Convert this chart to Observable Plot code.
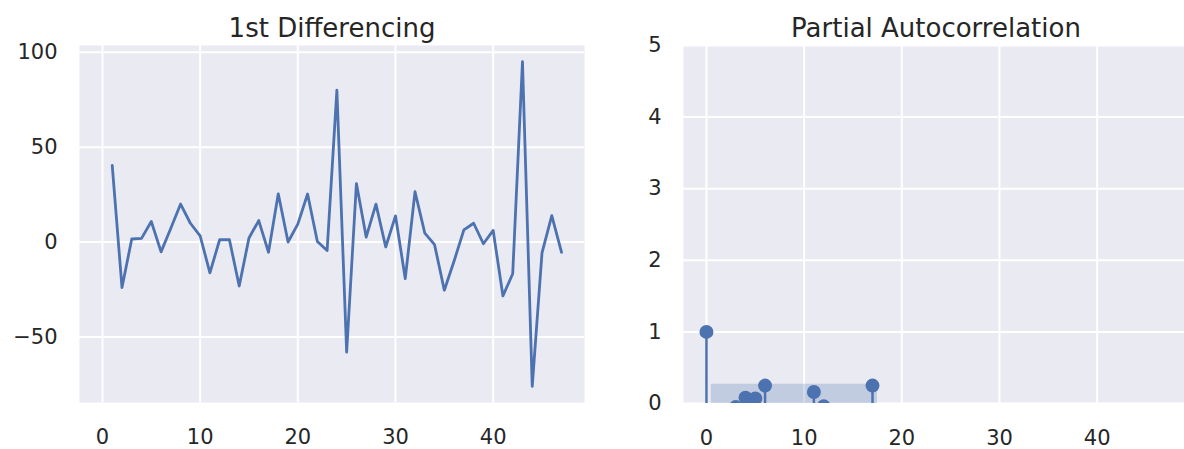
<!DOCTYPE html>
<html>
<head>
<meta charset="utf-8">
<script src="https://cdn.jsdelivr.net/npm/d3@7"></script>
<script src="https://cdn.jsdelivr.net/npm/@observablehq/plot@0.6"></script>
<style>
  html, body { margin: 0; padding: 0; background: #fff; overflow: hidden; }
  #wrap { position: relative; width: 1184px; height: 449px; overflow: hidden; }
  .panel { position: absolute; top: 0; width: 600px; height: 449px; }
  .panel svg { max-width: none !important; display: block; }
</style>
</head>
<body>
<div id="wrap">
  <div class="panel" id="left" style="left:0px"></div>
  <div class="panel" id="right" style="left:600px"></div>
</div>
<script>
// ---- data ----
const diffTitle = "1st Differencing";
const pacfTitle = "Partial Autocorrelation";

// first-differenced series, t = 1..47
const diffValues = [40.4, -24.0, 1.6, 1.9, 10.8, -5.2, 7.3, 20.0, 9.9, 3.3,
  -16.2, 1.2, 1.2, -23.2, 2.1, 11.3, -5.4, 25.4, 0.0, 9.4,
  25.3, 0.3, -4.5, 80.0, -58.0, 30.8, 2.6, 20.0, -2.6, 13.8,
  -19.3, 26.5, 4.7, -1.4, -25.4, -10.0, 6.4, 9.9, -0.9, 6.1,
  -28.4, -16.7, 95.0, -76.0, -5.7, 13.9, -5.4];

// partial autocorrelation, lags 0..17
const pacfLags = [0, 1, 2, 3, 4, 5, 6, 7, 8, 9, 10, 11, 12, 13, 14, 15, 16, 17];
const pacfValues = [1.0, -0.35, -0.2, -0.05, 0.08, 0.07, 0.25, -0.15, -0.12, -0.2,
  -0.1, 0.16, -0.04, -0.2, -0.15, -0.18, -0.22, 0.25];
const pacfConf = 0.268; // 95% confidence half-width

const xTicks = [0, 10, 20, 30, 40];
const diffYTicks = [-50, 0, 50, 100];
const pacfYTicks = [0, 1, 2, 3, 4, 5];

// ---- style ----
const BLUE = "#4C72B0";
const BG = "#EAEAF2";
const INK = "#262626";
const FONT = "DejaVu Sans";
const xDomain = [-2.35, 49.35];
const fmt = d => String(d).replace("-", "\u2212");

const diffData = diffValues.map((v, i) => ({t: i + 1, v}));
const pacfData = pacfLags.map((l, i) => ({lag: l, v: pacfValues[i]}));
// confidence band over lags 1..17, widened by half a lag at both ends
const bandData = pacfLags.slice(1).map((l, i, arr) => ({
  lag: i === 0 ? l - 0.5 : (i === arr.length - 1 ? l + 0.5 : l),
  lo: -pacfConf, hi: pacfConf
}));

function common(title) {
  return [
    Plot.frame({fill: BG, stroke: null}),
    Plot.gridX(xTicks, {stroke: "#fff", strokeOpacity: 1, strokeWidth: 2}),
    Plot.axisX(xTicks, {tickSize: 0, tickPadding: 27, fontSize: 21, fill: INK, label: null, tickFormat: fmt}),
    Plot.text([title], {frameAnchor: "top", dy: -9, lineAnchor: "bottom", fontSize: 26, fill: INK})
  ];
}

const left = Plot.plot({
  width: 600, height: 449,
  marginLeft: 79, marginRight: 16, marginTop: 45, marginBottom: 47,
  style: {fontFamily: FONT, background: "transparent", overflow: "visible", maxWidth: "none"},
  x: {domain: xDomain},
  y: {domain: [-84.55, 103.55]},
  marks: [
    ...common(diffTitle),
    Plot.gridY(diffYTicks, {stroke: "#fff", strokeOpacity: 1, strokeWidth: 2}),
    Plot.axisY(diffYTicks, {tickSize: 0, tickPadding: 22, fontSize: 21, fill: INK, label: null, tickFormat: fmt}),
    Plot.line(diffData, {x: "t", y: "v", stroke: BLUE, strokeWidth: 2.8, strokeLinejoin: "round", strokeLinecap: "round"})
  ]
});
document.getElementById("left").append(left);

const right = Plot.plot({
  width: 600, height: 449,
  marginLeft: 83, marginRight: 12, marginTop: 45, marginBottom: 46,
  style: {fontFamily: FONT, background: "transparent", overflow: "visible", maxWidth: "none"},
  x: {domain: xDomain},
  y: {domain: [0, 5]},
  marks: [
    ...common(pacfTitle),
    Plot.gridY(pacfYTicks, {stroke: "#fff", strokeOpacity: 1, strokeWidth: 2}),
    Plot.axisY(pacfYTicks, {tickSize: 0, tickPadding: 22, fontSize: 21, fill: INK, label: null, tickFormat: fmt}),
    Plot.areaY(bandData, {x: "lag", y1: "lo", y2: "hi", fill: BLUE, fillOpacity: 0.25, clip: true}),
    Plot.ruleX(pacfData, {x: "lag", y1: 0, y2: "v", stroke: BLUE, strokeWidth: 2.5, clip: true}),
    Plot.dot(pacfData, {x: "lag", y: "v", r: 7, fill: BLUE, stroke: null, clip: true})
  ]
});
document.getElementById("right").append(right);
</script>
</body>
</html>
